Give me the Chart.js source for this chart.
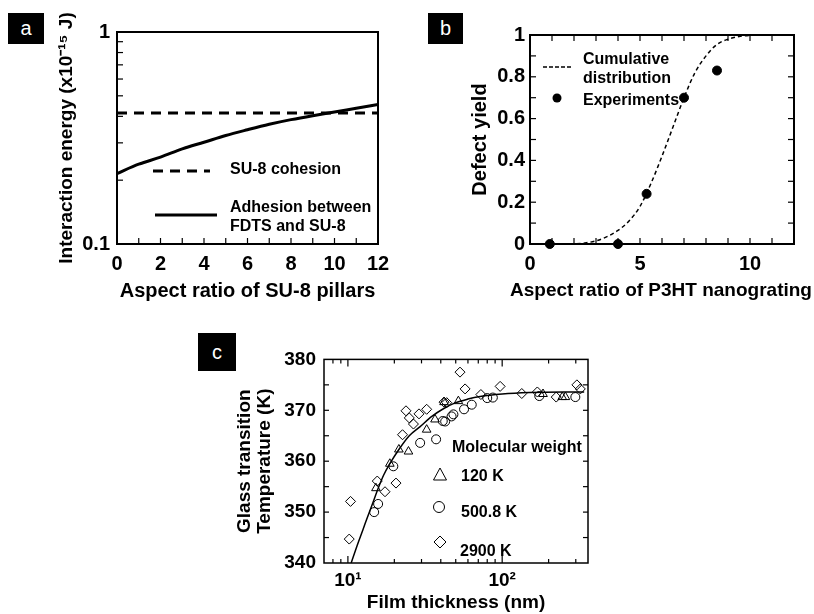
<!DOCTYPE html>
<html>
<head>
<meta charset="utf-8">
<script src="https://cdn.jsdelivr.net/npm/chart.js@4/dist/chart.umd.min.js"></script>
<style>
html, body { margin: 0; padding: 0; background: #fff; }
body { width: 814px; height: 614px; position: relative; overflow: hidden; }
canvas { position: absolute; }
.tag { position: absolute; background: #000; color: #fff; font: 20px "Liberation Sans", Arial, sans-serif;
       display: flex; align-items: center; justify-content: center; }
</style>
</head>
<body>
<canvas id="chartA" width="346" height="310" style="left:54px;top:0px"></canvas>
<canvas id="chartB" width="346" height="310" style="left:468px;top:0px"></canvas>
<canvas id="chartC" width="370" height="274" style="left:230px;top:340px"></canvas>
<div class="tag" style="left:8px;top:13px;width:36px;height:31px">a</div>
<div class="tag" style="left:428px;top:13px;width:35px;height:31px">b</div>
<div class="tag" style="left:198px;top:333px;width:38px;height:38px">c</div>
<script>
Chart.defaults.color = '#000';
Chart.defaults.font.family = '"Liberation Sans", Arial, sans-serif';
Chart.defaults.font.size = 20;
Chart.defaults.font.weight = 'bold';
Chart.defaults.animation = false;
Chart.defaults.plugins.legend.display = false;
Chart.defaults.plugins.tooltip.enabled = false;

// panel a
const aspectA = [0, 1, 2, 3, 4, 5, 6, 7, 8, 9, 10, 11, 12];
const adhesion = [0.215, 0.238, 0.257, 0.281, 0.302, 0.325, 0.346, 0.367, 0.386, 0.403, 0.419, 0.437, 0.455];
const cohesionX = [0, 12];
const cohesion = [0.415, 0.415];
const energyMinor = [0.2, 0.3, 0.4, 0.5, 0.6, 0.7, 0.8, 0.9];
const aspectMinorA = [1, 2, 3, 4, 5, 6, 7, 8, 9, 10, 11];

// panel b
const expX = [0.9, 4.0, 5.3, 7.0, 8.5];
const expY = [0, 0, 0.24, 0.70, 0.83];
const cdfX = [1.8, 2.5, 3.0, 3.5, 4.0, 4.5, 5.0, 5.5, 6.0, 6.5, 7.0, 7.5, 8.0, 8.5, 9.0, 9.5, 10.0, 11.0];
const cdfY = [0, 0.005, 0.015, 0.035, 0.065, 0.11, 0.18, 0.29, 0.42, 0.56, 0.70, 0.82, 0.90, 0.955, 0.98, 0.993, 0.998, 1.0];
const yieldMinor = [0.1, 0.2, 0.3, 0.4, 0.5, 0.6, 0.7, 0.8, 0.9];
const aspectMinorB = [1, 2, 3, 4, 5, 6, 7, 8, 9, 10, 11];

// panel c
const triX = [15.2, 18.7, 21.4, 24.7, 32.4, 36.7, 42, 52, 184, 245, 257];
const triY = [354.7, 359.5, 362.3, 361.9, 366.2, 368.2, 371.6, 371.8, 373.2, 372.6, 372.6];
const circX = [14.8, 15.7, 19.7, 29.4, 37.3, 41.2, 42.7, 47, 48.3, 56.6, 63.5, 80, 87, 174, 298];
const circY = [350.0, 351.6, 359.0, 363.6, 364.3, 367.9, 367.8, 368.8, 369.2, 370.2, 371.1, 372.4, 372.5, 372.8, 372.6];
const diaX = [10.2, 10.4, 15.5, 17.4, 20.5, 22.6, 23.8, 25.0, 26.6, 28.9, 32.4, 42, 43.7, 53.3, 57.5, 72.8, 97, 134, 169, 224, 305, 321];
const diaY = [344.7, 352.1, 356.1, 354.0, 355.7, 365.2, 369.9, 368.5, 367.3, 369.3, 370.2, 371.6, 371.5, 377.5, 374.2, 373.1, 374.7, 373.3, 373.6, 372.6, 375.0, 374.2];
const fitX = [10.5, 11.5, 12.5, 13.5, 14.5, 15.5, 17, 18.7, 21.4, 25, 29.4, 35, 41.6, 50, 60, 72, 100, 150, 250, 340];
const fitY = [340, 343.5, 346.5, 349.3, 351.8, 354.2, 357.2, 359.5, 362.3, 365.0, 366.8, 368.8, 370.3, 371.5, 372.2, 372.7, 373.2, 373.5, 373.6, 373.6];
const tgMinor = [345, 350, 355, 360, 365, 370, 375];
const thickMinor = [8, 9, 20, 30, 40, 50, 60, 70, 80, 90, 200, 300];
const thickMajor = [10, 100];

const pts = (xs, ys) => xs.map((x, i) => ({x: x, y: ys[i]}));
const noGrid = {display: false, drawTicks: false};

// box round the plot and small ticks pointing inward
const frame = (lw, marks) => ({
  id: 'frame',
  afterDatasetsDraw(chart) {
    const {ctx, chartArea: a, scales} = chart;
    ctx.save();
    ctx.strokeStyle = '#000';
    ctx.lineWidth = 1.2;
    marks.forEach(m => {
      const s = scales[m.axis];
      m.values.forEach(v => {
        const p = s.getPixelForValue(v);
        ctx.beginPath();
        if (m.side === 'bottom') { ctx.moveTo(p, a.bottom); ctx.lineTo(p, a.bottom - m.len); }
        if (m.side === 'top') { ctx.moveTo(p, a.top); ctx.lineTo(p, a.top + m.len); }
        if (m.side === 'left') { ctx.moveTo(a.left, p); ctx.lineTo(a.left + m.len, p); }
        if (m.side === 'right') { ctx.moveTo(a.right, p); ctx.lineTo(a.right - m.len, p); }
        ctx.stroke();
      });
    });
    ctx.lineWidth = lw;
    ctx.strokeRect(a.left, a.top, a.right - a.left, a.bottom - a.top);
    ctx.restore();
  }
});

const txt = (ctx, s, x, y, size, align) => {
  ctx.font = 'bold ' + size + 'px "Liberation Sans", Arial, sans-serif';
  ctx.fillStyle = '#000';
  ctx.textAlign = align || 'left';
  ctx.textBaseline = 'middle';
  ctx.fillText(s, x, y);
};
const seg = (ctx, x1, x2, y, w, dash) => {
  ctx.save();
  ctx.lineWidth = w;
  ctx.setLineDash(dash);
  ctx.beginPath();
  ctx.moveTo(x1, y);
  ctx.lineTo(x2, y);
  ctx.stroke();
  ctx.restore();
};

const fixW = w => (s => { s.width = w; });
const fixH = h => (s => { s.height = h; });

// ---- a ----
new Chart('chartA', {
  type: 'scatter',
  data: {
    datasets: [
      {data: pts(cohesionX, cohesion), showLine: true, borderColor: '#000', borderWidth: 3, borderDash: [10, 7], pointRadius: 0},
      {data: pts(aspectA, adhesion), showLine: true, borderColor: '#000', borderWidth: 3, pointRadius: 0, cubicInterpolationMode: 'monotone'}
    ]
  },
  options: {
    responsive: false,
    devicePixelRatio: 1,
    layout: {padding: {top: 32, right: 22, left: 0, bottom: 0}},
    scales: {
      x: {
        type: 'linear', min: 0, max: 12,
        grid: noGrid, border: {display: false},
        ticks: {stepSize: 2, padding: 8, maxRotation: 0},
        title: {display: true, text: 'Aspect ratio of SU-8 pillars', padding: {top: 0, bottom: 7}},
        afterFit: fixH(66)
      },
      y: {
        type: 'logarithmic', min: 0.1, max: 1,
        grid: noGrid, border: {display: false},
        ticks: {padding: 7, autoSkip: false,
          callback: v => Math.abs(v - 0.1) < 1e-9 ? '0.1' : (Math.abs(v - 1) < 1e-9 ? '1' : '')},
        title: {display: true, text: 'Interaction energy (x10\u207B\u00B9\u2075 J)', font: {size: 19}, padding: {top: 1, bottom: 0}},
        afterFit: fixW(63)
      }
    }
  },
  plugins: [frame(2, [
    {axis: 'y', side: 'left', values: energyMinor, len: 6},
    {axis: 'x', side: 'bottom', values: aspectMinorA, len: 6}
  ]), {
    id: 'legA',
    afterDraw(chart) {
      const ctx = chart.ctx;
      ctx.strokeStyle = '#000';
      seg(ctx, 99, 156, 171, 3, [10, 7]);
      txt(ctx, 'SU-8 cohesion', 176, 170, 16);
      seg(ctx, 101, 163, 215, 3, []);
      txt(ctx, 'Adhesion between', 176, 208, 16);
      txt(ctx, 'FDTS and SU-8', 176, 227, 16);
    }
  }]
});

// ---- b ----
new Chart('chartB', {
  type: 'scatter',
  data: {
    datasets: [
      {data: pts(cdfX, cdfY), showLine: true, borderColor: '#000', borderWidth: 1.5, borderDash: [4, 3], pointRadius: 0, cubicInterpolationMode: 'monotone'},
      {data: pts(expX, expY), pointRadius: 4.5, pointBackgroundColor: '#000', pointBorderColor: '#000', clip: false}
    ]
  },
  options: {
    responsive: false,
    devicePixelRatio: 1,
    layout: {padding: {top: 35, right: 20, left: 0, bottom: 0}},
    scales: {
      x: {
        type: 'linear', min: 0, max: 12,
        grid: noGrid, border: {display: false},
        ticks: {stepSize: 5, padding: 8, maxRotation: 0, includeBounds: false},
        afterFit: fixH(66)
      },
      y: {
        type: 'linear', min: 0, max: 1,
        grid: noGrid, border: {display: false},
        ticks: {stepSize: 0.2, padding: 5, callback: v => String(Number(v.toFixed(1)))},
        title: {display: true, text: 'Defect yield', padding: {top: 0, bottom: 0}},
        afterFit: fixW(62)
      }
    }
  },
  plugins: [frame(2, [
    {axis: 'y', side: 'left', values: yieldMinor, len: 6},
    {axis: 'y', side: 'right', values: yieldMinor, len: 6},
    {axis: 'x', side: 'bottom', values: aspectMinorB, len: 6},
    {axis: 'x', side: 'top', values: aspectMinorB, len: 6}
  ]), {
    id: 'legB',
    afterDraw(chart) {
      const ctx = chart.ctx;
      const a = chart.chartArea;
      ctx.strokeStyle = '#000';
      // x title drawn by hand so that it is not squeezed to the plot width
      txt(ctx, 'Aspect ratio of P3HT nanograting', (a.left + a.right) / 2 - 1, 291, 19, 'center');
      seg(ctx, 75, 104, 67, 1.5, [4, 2]);
      txt(ctx, 'Cumulative', 115, 60, 16);
      txt(ctx, 'distribution', 115, 79, 16);
      ctx.beginPath();
      ctx.arc(89, 98, 4.5, 0, Math.PI * 2);
      ctx.fillStyle = '#000';
      ctx.fill();
      txt(ctx, 'Experiments', 115, 101, 16);
    }
  }]
});

// ---- c ----
const sym = {backgroundColor: 'rgba(0,0,0,0)', borderColor: '#000', borderWidth: 1, showLine: false};
new Chart('chartC', {
  type: 'scatter',
  data: {
    datasets: [
      {data: pts(fitX, fitY), showLine: true, borderColor: '#000', borderWidth: 1.5, pointRadius: 0, cubicInterpolationMode: 'monotone'},
      Object.assign({data: pts(triX, triY), pointStyle: 'triangle', pointRadius: 5}, sym),
      Object.assign({data: pts(circX, circY), pointStyle: 'circle', pointRadius: 4.5}, sym),
      Object.assign({data: pts(diaX, diaY), pointStyle: 'rectRot', pointRadius: 5}, sym)
    ]
  },
  options: {
    responsive: false,
    devicePixelRatio: 1,
    layout: {padding: {top: 17, right: 12, left: 0, bottom: 0}},
    scales: {
      x: {
        type: 'logarithmic', min: 7, max: 360,
        grid: noGrid, border: {display: false},
        ticks: {padding: 6, autoSkip: false, maxRotation: 0, font: {size: 19},
          callback: v => v === 10 ? '10\u00B9' : (v === 100 ? '10\u00B2' : '')},
        title: {display: true, text: 'Film thickness (nm)', font: {size: 19}, padding: {top: 0, bottom: 0}},
        afterFit: fixH(51)
      },
      y: {
        type: 'linear', min: 340, max: 380,
        grid: noGrid, border: {display: false},
        ticks: {stepSize: 10, padding: 8, font: {size: 19}},
        title: {display: true, text: ['Glass transition', 'Temperature (K)'], font: {size: 19, lineHeight: 1.05}, padding: {top: 5, bottom: 0}},
        afterFit: fixW(94)
      }
    }
  },
  plugins: [frame(1.5, [
    {axis: 'y', side: 'left', values: tgMinor, len: 5},
    {axis: 'y', side: 'right', values: tgMinor, len: 5},
    {axis: 'x', side: 'bottom', values: thickMinor, len: 4},
    {axis: 'x', side: 'top', values: thickMinor, len: 4},
    {axis: 'x', side: 'bottom', values: thickMajor, len: 7},
    {axis: 'x', side: 'top', values: thickMajor, len: 7}
  ]), {
    id: 'legC',
    afterDraw(chart) {
      const ctx = chart.ctx;
      ctx.save();
      ctx.strokeStyle = '#000';
      ctx.lineWidth = 1;
      txt(ctx, 'Molecular weight', 222, 108, 16);
      ctx.beginPath();
      ctx.moveTo(210, 128); ctx.lineTo(216.5, 140); ctx.lineTo(203.5, 140); ctx.closePath();
      ctx.stroke();
      txt(ctx, '120 K', 231, 137, 16);
      ctx.beginPath();
      ctx.arc(209, 167, 5.5, 0, Math.PI * 2);
      ctx.stroke();
      txt(ctx, '500.8 K', 231, 173, 16);
      ctx.beginPath();
      ctx.moveTo(210, 196); ctx.lineTo(216, 202); ctx.lineTo(210, 208); ctx.lineTo(204, 202); ctx.closePath();
      ctx.stroke();
      txt(ctx, '2900 K', 230, 212, 16);
      ctx.restore();
    }
  }]
});
</script>
</body>
</html>
